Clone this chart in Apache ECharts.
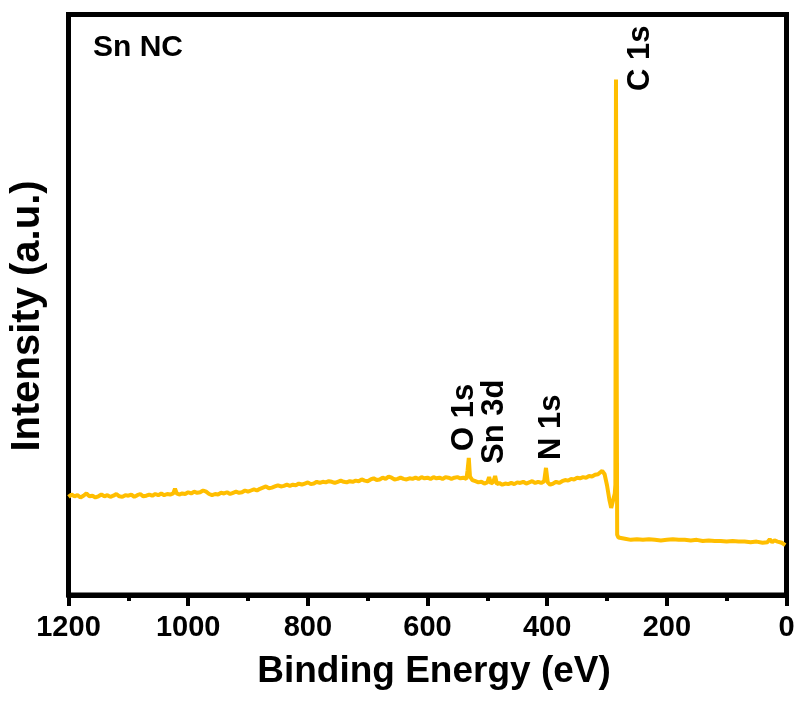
<!DOCTYPE html>
<html>
<head>
<meta charset="utf-8">
<script src="https://cdn.jsdelivr.net/npm/echarts@6/dist/echarts.min.js"></script>
<style>
  html, body { margin: 0; padding: 0; background: #fff; }
  #main { width: 800px; height: 713px; }
</style>
</head>
<body>
<div id="main"></div>
<script>
// binding energy (eV) and intensity (a.u., 0-100 of the frame height), row by row
var energy = [
  1200, 1195, 1190, 1185, 1180, 1175, 1170, 1165, 1160, 1155, 1150, 1145, 1140, 1135, 1130, 1125, 1120, 1115, 1110, 1105,
  1100, 1095, 1090, 1085, 1080, 1075, 1070, 1065, 1060, 1055, 1050, 1045, 1040, 1035, 1030, 1025, 1022, 1019, 1015, 1010,
  1005, 1000, 995, 990, 985, 980, 975, 970, 965, 960, 955, 950, 945, 940, 935, 930, 925, 920, 915, 910,
  905, 900, 895, 890, 885, 880, 875, 870, 865, 860, 855, 850, 845, 840, 835, 830, 825, 820, 815, 810,
  805, 800, 795, 790, 785, 780, 775, 770, 765, 760, 755, 750, 745, 740, 735, 730, 725, 720, 715, 710,
  705, 700, 695, 690, 685, 680, 675, 670, 665, 660, 655, 650, 645, 640, 635, 630, 625, 620, 615, 610,
  605, 600, 595, 590, 585, 580, 575, 570, 565, 560, 555, 550, 545, 540, 535, 533, 531, 529, 525, 520,
  515, 510, 505, 500, 497, 494, 490, 487, 484, 480, 475, 470, 465, 460, 455, 450, 445, 440, 435, 430,
  425, 420, 415, 410, 405, 402, 399, 395, 390, 385, 380, 375, 370, 365, 360, 355, 350, 345, 340, 335,
  330, 325, 320, 315, 312, 308, 304, 300, 296, 293, 290, 287, 286, 285, 283, 281, 278, 270, 260, 250,
  240, 230, 220, 210, 200, 190, 180, 170, 160, 150, 140, 130, 120, 110, 100, 90, 80, 70, 60, 50,
  40, 32, 28, 24, 20, 15, 8, 2];
var intensity = [
  16.9, 17.3, 17.0, 17.2, 16.8, 17.1, 17.5, 17.0, 17.1, 16.8, 17.0, 17.3, 17.0, 17.2, 16.9, 17.1, 17.4, 17.0, 16.9, 17.2,
  17.1, 17.3, 16.9, 17.2, 17.4, 17.0, 17.1, 17.3, 17.1, 17.4, 17.2, 17.5, 17.2, 17.4, 17.3, 17.5, 18.3, 17.5, 17.3, 17.5,
  17.4, 17.7, 17.5, 17.8, 17.6, 17.7, 18.0, 17.8, 17.4, 17.2, 17.4, 17.3, 17.6, 17.5, 17.7, 17.4, 17.6, 17.8, 17.6, 17.7,
  18.0, 17.8, 18.0, 18.2, 18.0, 18.3, 18.5, 18.7, 18.4, 18.5, 18.7, 18.9, 18.7, 18.8, 19.0, 18.8, 19.0, 18.9, 19.2, 19.0,
  19.2, 19.4, 19.1, 19.2, 19.5, 19.3, 19.5, 19.4, 19.6, 19.5, 19.3, 19.5, 19.7, 19.5, 19.4, 19.6, 19.5, 19.7, 19.6, 19.9,
  19.7, 19.6, 19.9, 20.1, 19.8, 19.9, 20.2, 20.0, 20.4, 20.2, 19.9, 20.0, 20.2, 20.0, 19.9, 20.1, 20.0, 20.2, 20.0, 20.3,
  20.1, 20.2, 20.0, 20.3, 20.1, 20.2, 20.0, 20.3, 20.2, 20.0, 20.2, 20.3, 20.1, 20.2, 20.0, 21.5, 23.6, 20.4, 19.8, 19.6,
  19.4, 19.5, 19.2, 19.4, 20.3, 19.2, 19.5, 20.5, 19.1, 19.3, 19.0, 19.2, 19.1, 19.3, 19.1, 19.4, 19.3, 19.5, 19.2, 19.4,
  19.6, 19.3, 19.5, 19.3, 19.6, 21.9, 19.4, 19.0, 19.2, 19.5, 19.3, 19.6, 19.8, 19.7, 20.0, 19.9, 20.2, 20.1, 20.3, 20.2,
  20.5, 20.4, 20.7, 20.8, 21.0, 21.4, 20.8, 18.9, 16.4, 15.0, 15.1, 17.5, 19.0, 88.8, 10.4, 9.9, 9.8, 9.7, 9.5, 9.6,
  9.5, 9.6, 9.5, 9.4, 9.5, 9.6, 9.5, 9.5, 9.4, 9.5, 9.3, 9.4, 9.3, 9.3, 9.2, 9.3, 9.2, 9.2, 9.1, 9.2,
  9.0, 9.1, 9.6, 9.1, 9.4, 9.2, 9.0, 8.6];
var xTicks = [0, 200, 400, 600, 800, 1000, 1200];

var peakLabels = [
  { text: 'C 1s', x: 640, y: 91 },
  { text: 'O 1s', x: 464, y: 451 },
  { text: 'Sn 3d', x: 494, y: 464 },
  { text: 'N 1s', x: 551, y: 460 }
];

var font = '"Liberation Sans", Arial, sans-serif';

var seriesData = energy.map(function (e, i) { return [e, intensity[i]]; });

var graphics = peakLabels.map(function (p) {
  return {
    type: 'text', x: p.x, y: p.y, rotation: Math.PI / 2,
    style: { text: p.text, textAlign: 'left', textVerticalAlign: 'middle',
      font: 'bold 31px ' + font, fill: '#000' }
  };
});
graphics.push({
  type: 'text', x: 93, y: 48,
  style: { text: 'Sn NC', textAlign: 'left', textVerticalAlign: 'middle', font: 'bold 30px ' + font, fill: '#000' }
});
graphics.push({
  type: 'text', x: 434, y: 672,
  style: { text: 'Binding Energy (eV)', textAlign: 'center', textVerticalAlign: 'middle', font: 'bold 37px ' + font, fill: '#000' }
});
graphics.push({
  type: 'text', x: 28, y: 316, rotation: Math.PI / 2,
  style: { text: 'Intensity (a.u.)', textAlign: 'center', textVerticalAlign: 'middle', font: 'bold 40px ' + font, fill: '#000' }
});

var chart = echarts.init(document.getElementById('main'));
chart.setOption({
  animation: false,
  grid: { left: 68.5, right: 13.5, top: 14.5, bottom: 118, show: true, borderColor: '#000', borderWidth: 5 },
  xAxis: {
    type: 'value', inverse: true, min: 0, max: 1200, interval: 200,
    axisLine: { lineStyle: { color: '#000', width: 5 } },
    axisTick: { show: true, length: 11, lineStyle: { color: '#000', width: 4 } },
    minorTick: { show: true, splitNumber: 2, length: 6, lineStyle: { color: '#000', width: 4 } },
    splitLine: { show: false },
    axisLabel: {
      margin: 18, color: '#000', fontSize: 29, fontWeight: 'bold', fontFamily: font,
      showMinLabel: true, showMaxLabel: true,
      formatter: function (v) { return xTicks.indexOf(v) >= 0 ? String(v) : ''; }
    }
  },
  yAxis: {
    type: 'value', min: 0, max: 100,
    axisLine: { show: true, lineStyle: { color: '#000', width: 5 } },
    axisTick: { show: false },
    axisLabel: { show: false },
    splitLine: { show: false }
  },
  series: [{
    type: 'line',
    data: seriesData,
    showSymbol: false,
    lineStyle: { color: '#FFBE00', width: 4 },
    z: 1
  }],
  graphic: graphics
});
</script>
</body>
</html>
